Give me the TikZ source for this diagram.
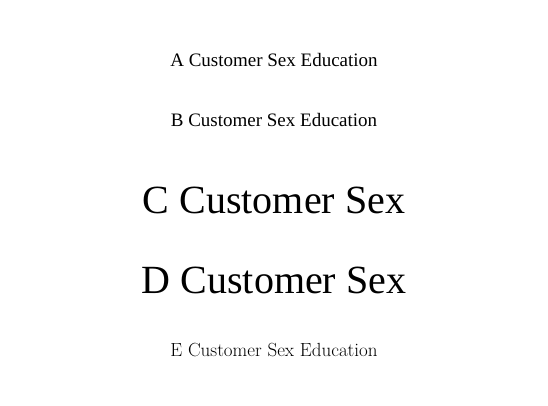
\documentclass[tikz,border=0pt]{standalone}
\usepackage{fontspec}
\newfontfamily\tnr{Liberation Serif}
\begin{document}
\begin{tikzpicture}[x=1pt,y=-1pt]
  \useasboundingbox (0,0) rectangle (548,405);
  \node[font=\tnr\fontsize{19}{20}\selectfont] (a) at (274,60) {A Customer Sex Education};
  \node[font=\fontsize{19}{20}\selectfont\tnr] (b) at (274,120) {B Customer Sex Education};
  \node[font=\tnr\fontsize{40}{40}\selectfont] (c) at (274,200) {C Customer Sex};
  \node[font=\fontsize{40}{40}\selectfont\tnr] (d) at (274,280) {D Customer Sex};
  \node[font=\fontsize{19}{20}\selectfont] (e) at (274,350) {E Customer Sex Education};
\end{tikzpicture}
\end{document}
